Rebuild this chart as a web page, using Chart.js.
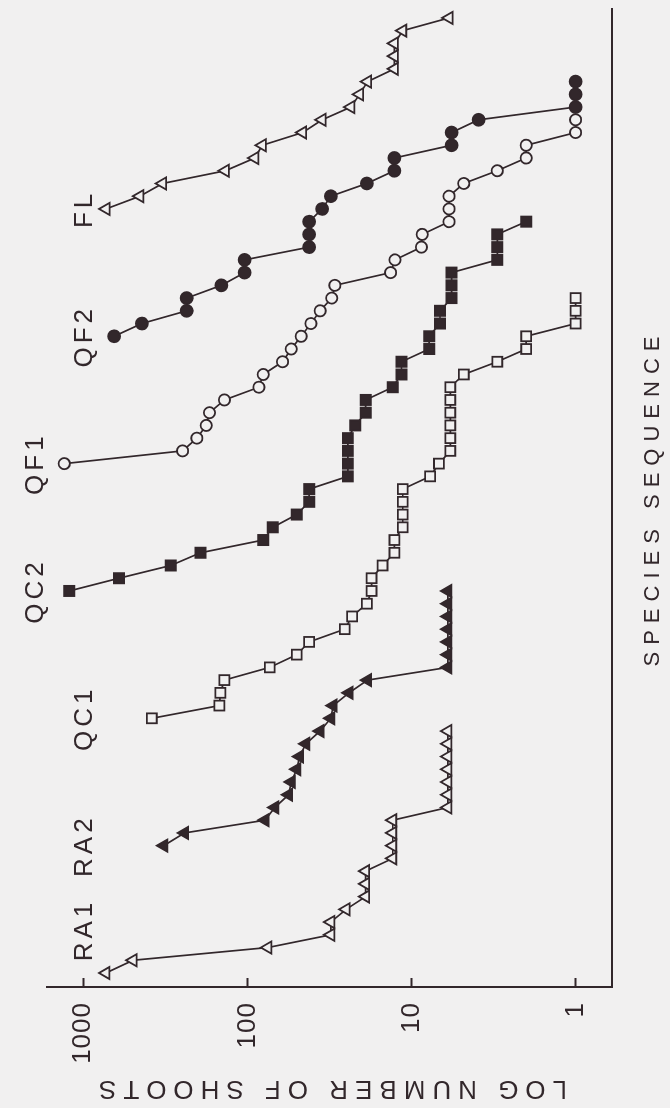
<!DOCTYPE html>
<html>
<head>
<meta charset="utf-8">
<script src="https://cdn.jsdelivr.net/npm/chart.js@4.4.0/dist/chart.umd.min.js"></script>
<style>
  html, body { margin:0; padding:0; background:#f1f0f0; overflow:hidden; }
  /* the figure is printed turned on its side: draw it upright, then rotate */
  #wrap { position:absolute; left:0; top:0; width:1108px; height:670px;
          transform-origin:0 0; transform:translateY(1108px) rotate(-90deg); }
</style>
</head>
<body>
<div id="wrap"><canvas id="c" width="1108" height="670"></canvas></div>
<script>
// species sequence: each community starts 10 places further along
const seriesNames = ['RA1', 'RA2', 'QC1', 'QC2', 'QF1', 'QF2', 'FL'];
const seriesStart = [1, 11, 21, 31, 41, 51, 61];

// number of shoots per species, ranked
const ra1 = [727, 497, 75, 31, 31, 25, 19, 19, 19, 13, 13, 13, 13, 6, 6, 6, 6, 6, 6, 6];
const ra2 = [323, 241, 78, 68, 56, 54, 50, 48, 44, 36, 31, 30, 24, 18.5, 6, 6, 6, 6, 6, 6, 6];
const qc1 = [382, 148, 146, 138, 73, 50, 42, 25.5, 23, 18.7, 17.5, 17.5, 15, 12.7, 12.7,
             11.3, 11.3, 11.3, 11.3, 7.7, 6.8, 5.8, 5.8, 5.8, 5.8, 5.8, 5.8, 4.8, 3, 2, 2, 1, 1, 1];
const qc2 = [1216, 605, 293, 193, 80, 70, 50, 42, 42, 24.4, 24.4, 24.4, 24.4, 22, 19, 19, 13,
             11.5, 11.5, 7.8, 7.8, 6.7, 6.7, 5.7, 5.7, 5.7, 3, 3, 3, 2];
const qf1 = [1304, 248, 203, 178, 170, 138, 85, 80, 61, 54, 47, 41, 36, 30.6, 29.3, 13.4, 12.6,
             8.7, 8.6, 5.9, 5.9, 5.9, 4.8, 3, 2, 2, 1, 1];
const qf2 = [649, 439, 234, 234, 144, 104, 104, 42, 42, 42, 35, 31, 18.7, 12.7, 12.7, 5.7, 5.7, 3.9, 1, 1, 1];
const fl  = [726, 452, 328, 136, 90, 81, 46, 35, 23.4, 20.7, 18.5, 12.7, 12.7, 12.7, 11.3, 5.9];

const tickValues = [1, 10, 100, 1000];
const tickLabels = ['1', '10', '100', '1000'];

const ink = '#32272b';
const paper = '#f1f0f0';
const family = '"Liberation Sans", Arial, Helvetica, sans-serif';

const series = [ra1, ra2, qc1, qc2, qf1, qf2, fl];
const marks = [
  { style:'triangle', filled:false, r:7 },
  { style:'triangle', filled:true,  r:7 },
  { style:'rect',     filled:false, r:7 },
  { style:'rect',     filled:true,  r:7.2 },
  { style:'circle',   filled:false, r:5.6 },
  { style:'circle',   filled:true,  r:6 },
  { style:'triangle', filled:false, r:7 },
];

const datasets = series.map((vals, i) => ({
  label: seriesNames[i],
  data: vals.map((v, k) => ({ x: seriesStart[i] + k, y: v })),
  borderColor: ink,
  borderWidth: 1.7,
  pointStyle: marks[i].style,
  pointRadius: marks[i].r,
  pointBorderWidth: 1.8,
  pointBorderColor: ink,
  pointBackgroundColor: marks[i].filled ? ink : paper,
  tension: 0,
  fill: false,
}));

// letter spacing of the typed lettering: titles wide, tick numbers tight
const spacing = {
  id: 'spacing',
  beforeDraw(chart) { chart.ctx.letterSpacing = '7px'; },
  beforeDatasetsDraw(chart) { chart.ctx.letterSpacing = '1px'; },
};

// community names written at the start of each run
const seriesLabels = {
  id: 'seriesLabels',
  afterDraw(chart) {
    const ctx = chart.ctx;
    ctx.save();
    ctx.letterSpacing = '4px';
    ctx.font = '26px ' + family;
    ctx.fillStyle = ink;
    ctx.textAlign = 'center';
    ctx.textBaseline = 'middle';
    chart.data.datasets.forEach((ds, i) => {
      const first = chart.getDatasetMeta(i).data[0];
      const x = Math.max(first.x, chart.chartArea.left + 57);
      const y = first.y < 75 ? 36 : 85;
      ctx.fillText(ds.label, x, y);
    });
    ctx.restore();
  }
};

new Chart(document.getElementById('c'), {
  type: 'line',
  data: { datasets },
  options: {
    responsive: false,
    animation: false,
    devicePixelRatio: 1,
    layout: { padding: { top: 47, right: 8, bottom: 0, left: 0 } },
    plugins: { legend: { display: false }, tooltip: { enabled: false } },
    scales: {
      x: {
        type: 'linear', position: 'bottom', min: -0.1, max: 76.7,
        afterFit: s => { s.height = 58; },
        ticks: { display: false },
        grid: { display: false },
        border: { display: true, color: ink, width: 2 },
        title: { display: true, text: 'SPECIES SEQUENCE', color: ink,
                 font: { family, size: 22 }, padding: { top: 0, bottom: 4 } }
      },
      y: {
        type: 'logarithmic', position: 'left', min: 0.6076, max: 1662,
        afterBuildTicks: s => { s.ticks = tickValues.map(v => ({ value: v })); },
        afterFit: s => { s.width = 121; },
        ticks: { z: 1, padding: 24, color: ink, autoSkip: false, maxRotation: 0,
                 font: { family, size: 26 },
                 callback: (v, i) => tickLabels[i] },
        grid: { display: true, drawOnChartArea: false, drawTicks: true,
                tickLength: -9, tickWidth: 2, tickColor: ink },
        border: { display: true, color: ink, width: 2 },
        title: { display: true, text: 'LOG NUMBER OF SHOOTS', color: ink,
                 font: { family, size: 26 }, padding: { top: 4, bottom: 0 } }
      }
    }
  },
  plugins: [spacing, seriesLabels]
});
</script>
</body>
</html>
